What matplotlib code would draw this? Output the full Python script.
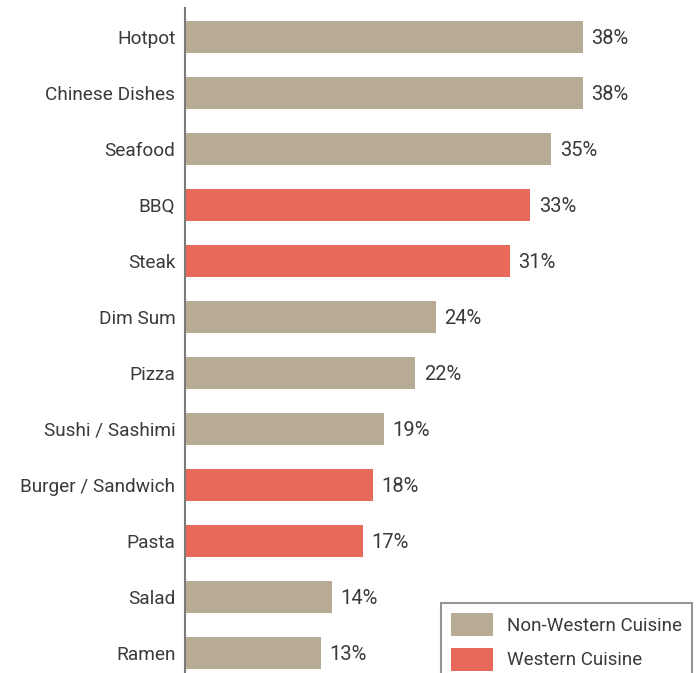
import matplotlib
matplotlib.use("Agg")
import matplotlib.pyplot as plt
from matplotlib.patches import Patch

categories = ["Hotpot", "Chinese Dishes", "Seafood", "BBQ", "Steak", "Dim Sum",
              "Pizza", "Sushi / Sashimi", "Burger / Sandwich", "Pasta", "Salad", "Ramen"]
values = [38, 38, 35, 33, 31, 24, 22, 19, 18, 17, 14, 13]
cuisine = ["Non-Western", "Non-Western", "Non-Western", "Western", "Western", "Non-Western",
           "Non-Western", "Non-Western", "Western", "Western", "Non-Western", "Non-Western"]
legend_labels = ["Non-Western Cuisine", "Western Cuisine"]

colors = {"Non-Western": "#B7AB94", "Western": "#E8695A"}
text_color = "#3a3a3a"
plt.rcParams['font.family'] = ['Roboto', 'DejaVu Sans']

fig = plt.figure(figsize=(6.99, 6.73), dpi=100)
ax = fig.add_axes([185 / 699, 0.0, 1 - 185 / 699, (673 - 8) / 673])

y = list(range(len(categories)))
ax.barh(y, values, height=0.57, color=[colors[c] for c in cuisine])
ax.set_xlim(0, 49.1)
ax.set_ylim(11.36, -0.52)
ax.set_yticks(y)
ax.set_yticklabels(categories, fontsize=13.7, color=text_color)
ax.tick_params(axis='y', length=0, pad=7)
ax.set_xticks([])
for s in ["top", "right", "bottom"]:
    ax.spines[s].set_visible(False)
ax.spines["left"].set_color("#7a7a7a")
ax.spines["left"].set_linewidth(1.5)

for yi, v in zip(y, values):
    ax.text(v + 0.8, yi + 0.03, f"{v}%", va="center", ha="left", fontsize=14.5,
            color=text_color)

handles = [Patch(facecolor=colors["Non-Western"], label=legend_labels[0]),
           Patch(facecolor=colors["Western"], label=legend_labels[1])]
leg = fig.legend(handles=handles, loc="upper left", bbox_to_anchor=(441 / 699, 1 - 603 / 673),
                 frameon=True, fancybox=False, fontsize=13.5, handlelength=2.2, handleheight=1.5,
                 borderpad=0.55, labelspacing=0.62, handletextpad=0.75, borderaxespad=0)
leg.get_frame().set_edgecolor("#7a7a7a")
leg.get_frame().set_linewidth(1.5)
for t in leg.get_texts():
    t.set_color(text_color)

fig.savefig("out.png", dpi=100)
